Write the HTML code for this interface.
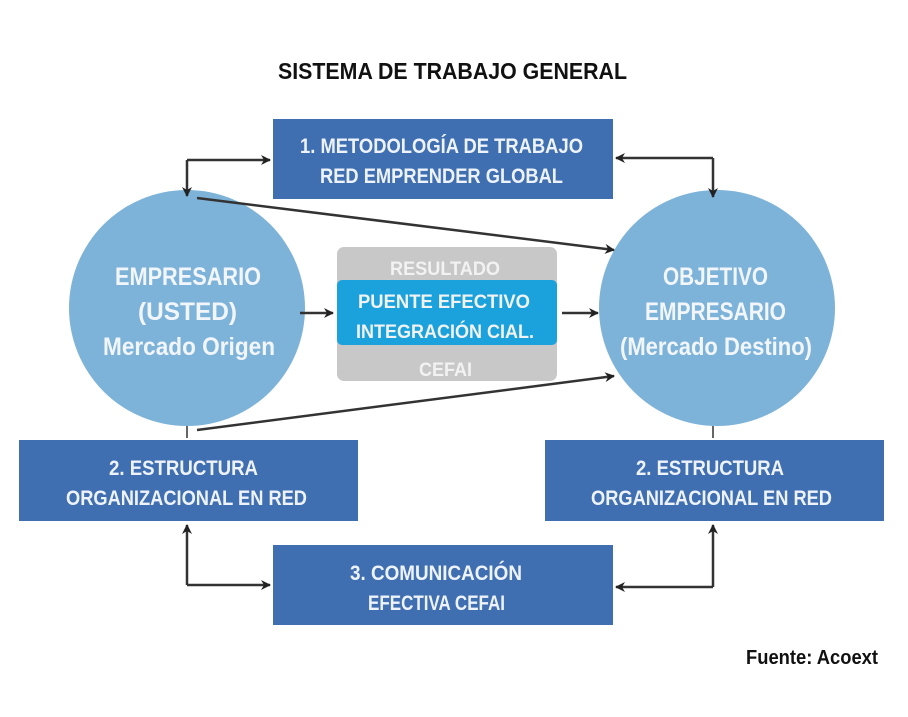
<!DOCTYPE html>
<html><head><meta charset="utf-8"><style>
html,body{margin:0;padding:0;background:#fff;}
svg{display:block}
text{font-family:"Liberation Sans Narrow","Liberation Sans",sans-serif;font-weight:bold}
.w{fill:#eef3fb;font-size:21px}
.g{fill:#f2f2f2;font-size:19px}
.c{fill:#f2f6fb;font-size:25px}
</style></head><body>
<svg width="908" height="717" viewBox="0 0 908 717">
<defs>
<marker id="a" markerWidth="12" markerHeight="12" refX="9" refY="6" orient="auto" markerUnits="userSpaceOnUse">
<path d="M0,1 L10,6 L0,11 L3,6 Z" fill="#222"/></marker>
</defs>
<text x="278" y="79" textLength="349" lengthAdjust="spacingAndGlyphs" style="font-size:23px;fill:#111">SISTEMA DE TRABAJO GENERAL</text>

<rect x="273" y="119" width="340" height="80" fill="#3f6fb0"/>
<text class="w" x="300" y="153" textLength="283" lengthAdjust="spacingAndGlyphs">1. METODOLOGÍA DE TRABAJO</text>
<text class="w" x="320" y="183" textLength="243" lengthAdjust="spacingAndGlyphs">RED EMPRENDER GLOBAL</text>

<circle cx="187" cy="308" r="118" fill="#7db3d9"/>
<circle cx="717" cy="308" r="118" fill="#7db3d9"/>
<text class="c" x="115" y="285" textLength="146" lengthAdjust="spacingAndGlyphs">EMPRESARIO</text>
<text class="c" x="138" y="320" textLength="99" lengthAdjust="spacingAndGlyphs">(USTED)</text>
<text class="c" x="103" y="355" textLength="172" lengthAdjust="spacingAndGlyphs">Mercado Origen</text>
<text class="c" x="663" y="285" textLength="105" lengthAdjust="spacingAndGlyphs">OBJETIVO</text>
<text class="c" x="645" y="320" textLength="141" lengthAdjust="spacingAndGlyphs">EMPRESARIO</text>
<text class="c" x="620" y="355" textLength="192" lengthAdjust="spacingAndGlyphs">(Mercado Destino)</text>

<rect x="337" y="247" width="220" height="134" rx="7" fill="#c8c8c8"/>
<rect x="337" y="280" width="220" height="65" rx="5" fill="#1ba2dc"/>
<text class="g" x="390" y="275" textLength="110" lengthAdjust="spacingAndGlyphs">RESULTADO</text>
<text class="g" x="358" y="308" textLength="172" lengthAdjust="spacingAndGlyphs">PUENTE EFECTIVO</text>
<text class="g" x="356" y="338" textLength="178" lengthAdjust="spacingAndGlyphs">INTEGRACIÓN CIAL.</text>
<text class="g" x="419" y="376" textLength="53" lengthAdjust="spacingAndGlyphs">CEFAI</text>

<rect x="19" y="440" width="339" height="81" fill="#3f6fb0"/>
<text class="w" x="109" y="475" textLength="149" lengthAdjust="spacingAndGlyphs">2. ESTRUCTURA</text>
<text class="w" x="66" y="505" textLength="241" lengthAdjust="spacingAndGlyphs">ORGANIZACIONAL EN RED</text>
<rect x="545" y="440" width="339" height="81" fill="#3f6fb0"/>
<text class="w" x="636" y="475" textLength="148" lengthAdjust="spacingAndGlyphs">2. ESTRUCTURA</text>
<text class="w" x="591" y="505" textLength="241" lengthAdjust="spacingAndGlyphs">ORGANIZACIONAL EN RED</text>

<rect x="273" y="545" width="340" height="80" fill="#3f6fb0"/>
<text class="w" x="350" y="580" textLength="172" lengthAdjust="spacingAndGlyphs">3. COMUNICACIÓN</text>
<text class="w" x="368" y="610" textLength="137" lengthAdjust="spacingAndGlyphs">EFECTIVA CEFAI</text>

<text x="746" y="664" textLength="132" lengthAdjust="spacingAndGlyphs" style="font-size:20px;fill:#111">Fuente: Acoext</text>

<g stroke="#333" stroke-width="2.5" fill="none">
<path d="M187,160 L270,160" marker-end="url(#a)"/>
<path d="M187,160 L187,196" marker-end="url(#a)"/>
<path d="M713,158 L616,158" marker-end="url(#a)"/>
<path d="M713,158 L713,197" marker-end="url(#a)"/>
<path d="M197,198 L614,250" marker-end="url(#a)"/>
<path d="M197,430 L614,376" marker-end="url(#a)"/>
<path d="M300,313 L333,313" marker-end="url(#a)"/>
<path d="M562,313 L598,313" marker-end="url(#a)"/>
<path d="M187,585 L187,525" marker-end="url(#a)"/>
<path d="M187,585 L270,585" marker-end="url(#a)"/>
<path d="M713,587 L713,525" marker-end="url(#a)"/>
<path d="M713,587 L616,587" marker-end="url(#a)"/>
<path d="M187,438 L187,426" stroke-width="1.5"/>
<path d="M713,438 L713,426" stroke-width="1.5"/>
</g>
</svg>
</body></html>
